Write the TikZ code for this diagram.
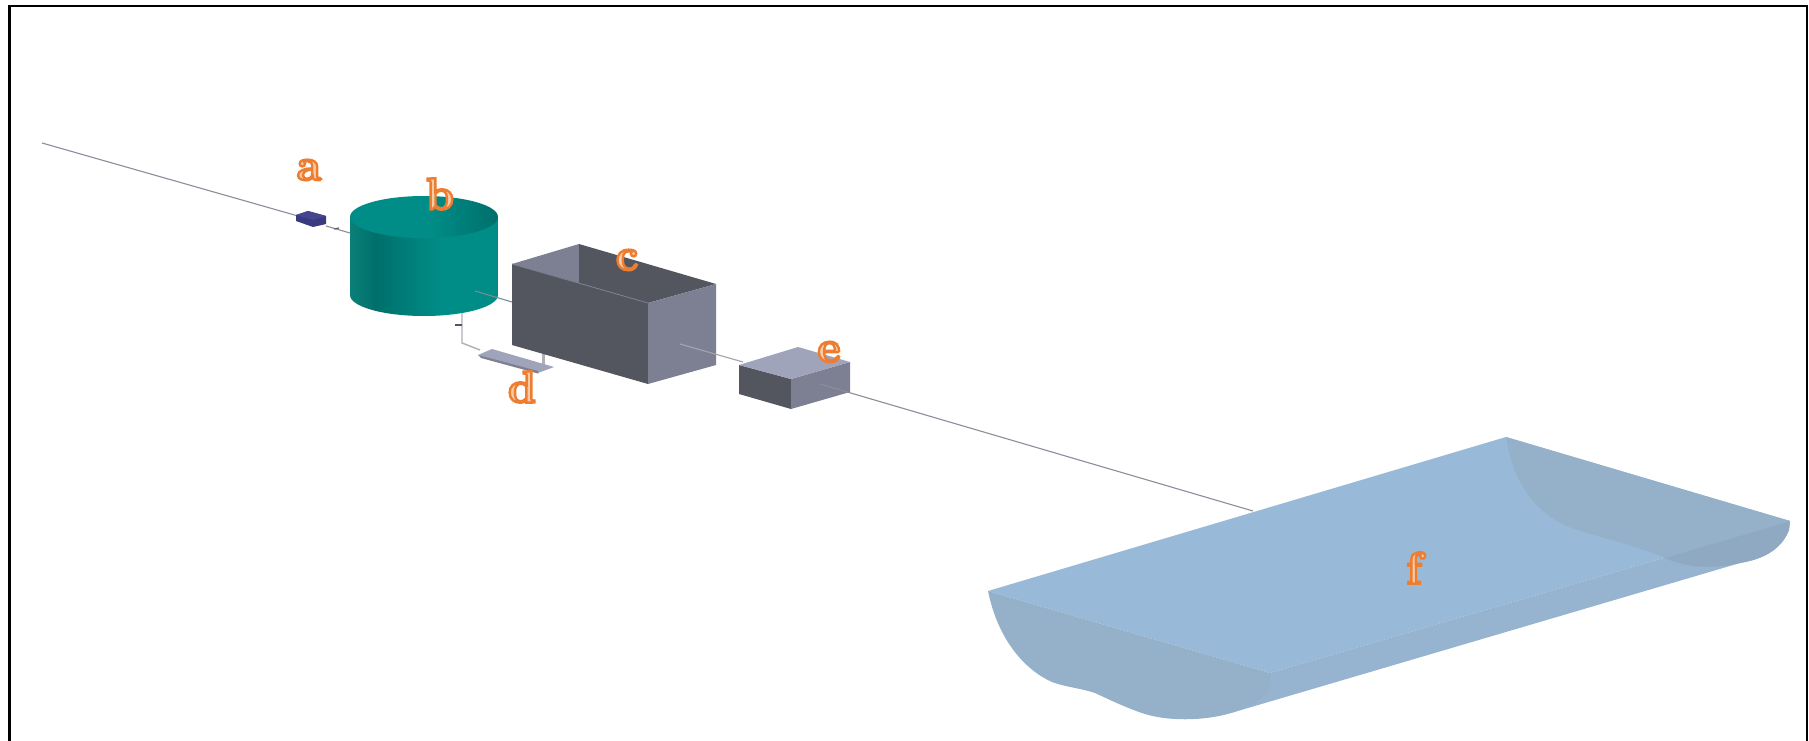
\documentclass[tikz,border=0pt]{standalone}
\usepackage{fontspec}
\usetikzlibrary{calc}
\definecolor{peach}{HTML}{F9CBA6}
\definecolor{pipe}{HTML}{8E8C9A}
\definecolor{wallD}{HTML}{53555F}
\definecolor{wallL}{HTML}{7D7F92}
\definecolor{topL}{HTML}{A0A4BA}
\definecolor{tealA}{HTML}{008D87}
\definecolor{tealB}{HTML}{006F6B}
\definecolor{tealC}{HTML}{0A8078}
\definecolor{fMain}{HTML}{98BAD8}
\definecolor{fEnd}{HTML}{95B1CA}
\definecolor{fSide}{HTML}{96B3CF}
\definecolor{fOver}{HTML}{8FA9C3}
\definecolor{aTop}{HTML}{46468F}
\definecolor{aSide}{HTML}{3A3A80}
\newcommand{\outlined}[1]{\special{pdf:code q 2 Tr 2.4 w 0.93 0.49 0.19 RG}#1\special{pdf:code Q}}
\tikzset{
  lab/.style={inner sep=0pt,text=peach,font=\fontsize{45}{45}\selectfont\bfseries},
  pipeline/.style={draw=pipe,line width=1.1pt},
  face/.style={draw=none,line join=round}
}
\begin{document}
\begin{tikzpicture}[x=1pt,y=-1pt]
\useasboundingbox (0,0) rectangle (1809,741);
\fill[white] (0,0) rectangle (1809,741);
\draw[black,line width=2.6pt] (9.5,741) -- (9.5,6) -- (1807,6) -- (1807,741);

% main line
\coordinate (lineA) at (42,143);
\coordinate (aIn) at (298,216);
\coordinate (aOut) at (326,226);
\coordinate (bIn) at (350,233);
\coordinate (bOut) at (475,291);
\coordinate (cIn) at (512,302);
\coordinate (cOut) at (680,344);
\coordinate (eIn) at (743,362);
\coordinate (eOut) at (820,384);
\coordinate (fIn) at (1253,511);
\draw[pipeline] (lineA) -- (aIn);
\draw[pipeline] (aOut) -- (bIn);

% a
\fill[face,fill=aSide] (296,215) -- (308,211) -- (326,216) -- (326,224) -- (313,227) -- (296,221) -- cycle;
\fill[face,fill=aTop] (296,215) -- (308,211) -- (326,216) -- (313,220) -- cycle;
\draw[pipe!70!black,line width=1.2pt] (334,229) -- (339,228);

% b
\begin{scope}
\clip (350,217) -- (350,295) arc[start angle=180,end angle=0,x radius=74,y radius=21] -- (498,217) -- cycle;
\shade[left color=tealC,right color=tealB] (350,190) rectangle (376,325);
\shade[left color=tealB,right color=tealA] (375.5,190) rectangle (440,325);
\fill[tealA] (439.5,190) rectangle (498,325);
\end{scope}
\begin{scope}
\clip (424,217) ellipse[x radius=74,y radius=21];
\fill[tealA] (350,190) rectangle (430.5,240);
\shade[left color=tealA,right color=tealB] (430,190) rectangle (498,240);
\end{scope}
\draw[pipeline,draw=pipe!85!tealA] (bOut) -- (cIn);

% under-pipe
\coordinate (dropA) at (462,313);
\coordinate (dropB) at (462,343);
\coordinate (dropC) at (480,350);
\draw[pipeline,draw=pipe!70!white,line width=1.4pt] (dropA) -- (dropB) -- (dropC);
\draw[pipe!60!black,line width=1.4pt] (455,325) -- (462,325);
\draw[draw=pipe!70!white,line width=3pt] (543,345) -- (543,365);

% d
\fill[face,fill=topL] (478,355) -- (492,349) -- (554,367) -- (538,373) -- cycle;
\fill[face,fill=wallL] (478,355) -- (481,358) -- (538,373.5) -- (538,371) -- cycle;

% c
\fill[face,fill=wallL] (512,264) -- (579,244) -- (579,284) -- cycle;
\fill[face,fill=wallD] (579,244) -- (716,284) -- (648,303) -- (579,283) -- cycle;
\fill[face,fill=wallD] (512,264) -- (648,303) -- (648,384) -- (512,345) -- cycle;
\fill[face,fill=wallL] (648,303) -- (716,284) -- (716,365) -- (648,384) -- cycle;
\draw[wallL,line width=.8pt] (512,264) -- (648,303);
\draw[pipeline,draw=pipe!80!white] (cOut) -- (eIn);

% e
\fill[face,fill=wallD] (739,365) -- (791,379) -- (791,409) -- (739,394) -- cycle;
\fill[face,fill=wallL] (791,379) -- (850,362) -- (850,392) -- (791,409) -- cycle;
\fill[face,fill=topL] (739,365) -- (798,347) -- (850,362) -- (791,379) -- cycle;
\draw[pipeline,draw=pipe] (eOut) -- (fIn);

% f
\fill[face,fill=fMain] (988,591) -- (1506,437) -- (1790,521) -- (1270,673) -- cycle;
\fill[face,fill=fSide] (1270,673) -- (1790,521) -- (1789,530) .. controls (1783,545) and (1770,558) .. (1740,563) -- (1231,713) -- cycle;
\fill[face,fill=fEnd] (988,591) -- (1270,673) .. controls (1272,690) and (1268,700) .. (1231,713)
  .. controls (1205,721) and (1165,722) .. (1139,712)
  .. controls (1120,705) and (1108,699) .. (1095,693)
  .. controls (1080,688) and (1065,687) .. (1052,682)
  .. controls (1025,670) and (998,640) .. cycle;
\fill[face,fill=fEnd] (1506,437) .. controls (1512,480) and (1535,515) .. (1572,528)
  .. controls (1600,538) and (1625,542) .. (1665,558)
  -- (1790,521) -- cycle;
\fill[face,fill=fOver] (1665,558) -- (1790,521) -- (1789,530) .. controls (1783,545) and (1770,558) .. (1740,563) .. controls (1710,570) and (1685,567) .. cycle;

% labels
\node[lab] (la) at (309,170) {\outlined{a}};
\node[lab] (lb) at (440,194) {\outlined{b}};
\node[lab] (lc) at (627,260) {\outlined{c}};
\node[lab] (ld) at (522,387) {\outlined{d}};
\node[lab] (le) at (829,352) {\outlined{e}};
\node[lab] (lf) at (1414,568) {\outlined{f}};
\end{tikzpicture}
\end{document}
